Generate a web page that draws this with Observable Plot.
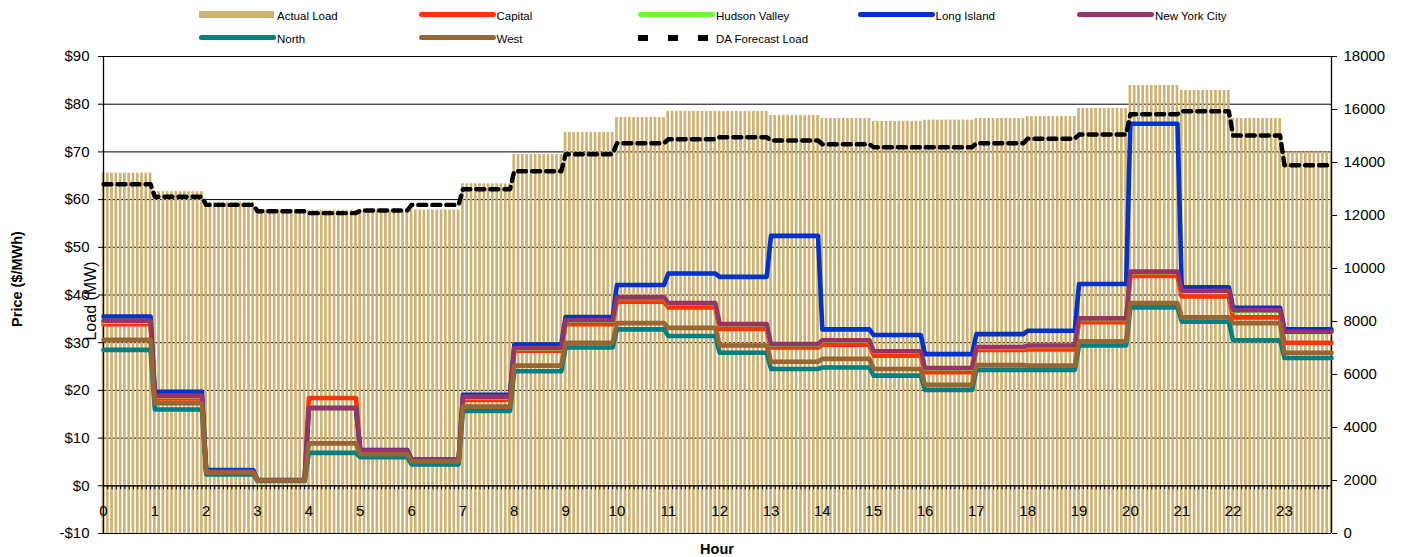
<!DOCTYPE html>
<html>
<head>
<meta charset="utf-8">
<script src="https://cdn.jsdelivr.net/npm/d3@7"></script>
<script src="https://cdn.jsdelivr.net/npm/@observablehq/plot@0.6"></script>
<style>
  html, body { margin: 0; padding: 0; background: #fff; }
  #wrap { position: relative; width: 1406px; height: 557px; font-family: "Liberation Sans", Arial, sans-serif; }
  #wrap svg { position: absolute; left: 0; top: 0; }
  .lg { position: absolute; font-size: 11.5px; color: #000; white-space: nowrap; line-height: 1; }
  .sw { position: absolute; }
  .title { position: absolute; white-space: nowrap; color: #000; line-height: 1; }
</style>
</head>
<body>
<div id="wrap"></div>
<script>
// ---- Data (hourly values) ----
const hours = d3.range(0, 24);
const actualLoad = [13600, 12900, 12500, 12210, 12200, 12200, 12210, 13195, 14300, 15130, 15700, 15925,
                    15925, 15775, 15660, 15550, 15600, 15660, 15735, 16040, 16905, 16720, 15660, 14400];
const daForecast = [13180, 12705, 12400, 12163, 12088, 12189, 12400, 12992, 13672, 14313, 14728, 14879,
                    14955, 14830, 14690, 14577, 14577, 14728, 14894, 15057, 15823, 15936, 15019, 13898];
const capital      = [33.9, 18.3, 2.9, 1.1, 18.4, 7.2, 5.2, 18.0, 28.3, 33.9, 38.6, 37.4,
                      32.9, 29.0, 29.6, 27.3, 23.8, 28.5, 28.6, 34.3, 44.0, 39.7, 35.3, 30.0];
const hudsonValley = [34.4, 18.8, 3.0, 1.1, 16.3, 7.3, 5.3, 18.6, 28.8, 34.6, 39.4, 38.2,
                      33.8, 29.6, 30.4, 28.1, 24.6, 29.0, 29.3, 35.0, 44.8, 40.8, 36.7, 32.2];
const longIsland   = [35.5, 19.7, 3.3, 1.2, 16.3, 7.5, 5.5, 19.1, 29.6, 35.4, 42.1, 44.5,
                      43.8, 52.4, 32.8, 31.6, 27.6, 31.8, 32.5, 42.3, 75.9, 41.6, 37.3, 32.8];
const newYorkCity  = [34.6, 18.9, 3.0, 1.1, 16.3, 7.4, 5.4, 18.7, 28.9, 34.7, 39.5, 38.3,
                      33.9, 29.7, 30.5, 28.2, 24.7, 29.1, 29.4, 35.1, 44.9, 40.9, 36.8, 32.3];
const north        = [28.5, 16.0, 2.4, 1.0, 6.9, 6.0, 4.5, 15.7, 24.0, 29.0, 32.8, 31.4,
                      27.9, 24.5, 24.8, 23.1, 20.1, 24.3, 24.3, 29.4, 37.4, 34.4, 30.5, 26.8];
const west         = [30.6, 17.3, 2.8, 1.1, 8.9, 6.6, 5.1, 16.6, 25.2, 30.0, 34.1, 33.1,
                      29.4, 26.0, 26.6, 24.5, 21.2, 25.3, 25.2, 30.3, 38.3, 35.3, 34.1, 27.9];
const priceTicks = [-10, 0, 10, 20, 30, 40, 50, 60, 70, 80, 90];
const loadTicks = [0, 2000, 4000, 6000, 8000, 10000, 12000, 14000, 16000, 18000];
const hourLabels = hours.map(String);

const seriesNames  = ["Capital", "Hudson Valley", "Long Island", "New York City", "North", "West"];
const seriesValues = [capital, hudsonValley, longIsland, newYorkCity, north, west];
const seriesColors = ["#FF3300", "#66FF33", "#0033CC", "#993366", "#008080", "#996633"];
const loadColor = "#CDB273";

// ---- helpers ----
const stepsPerHour = 12;  // 5-minute intervals
const toPrice = (load) => load / 180 - 10; // secondary axis 0..18000 aligned with -10..90
// expand hourly values to 5-minute rows (constant within each hour)
function expand(values) {
  const rows = [];
  values.forEach((v, h) => {
    for (let k = 0; k < stepsPerHour; k++) rows.push({t: h + k / stepsPerHour, v});
  });
  return rows;
}
const loadRows = expand(actualLoad);
const daRows = expand(daForecast);
const xMax = (24 * stepsPerHour - 1) / stepsPerHour;
const half = 1 / (2 * stepsPerHour);

const fmtPrice = d => d < 0 ? `-$${-d}` : `$${d}`;

const marks = [
  Plot.ruleY(priceTicks, {stroke: "#000", strokeWidth: 1}),
  Plot.rectY(loadRows, {x1: d => d.t - half, x2: d => d.t + half, y1: () => toPrice(0), y2: d => toPrice(d.v),
                        fill: loadColor, insetLeft: 0.8, insetRight: 0.8}),
  // category axis at $0
  Plot.ruleY([0], {stroke: "#000", strokeWidth: 1.2}),
  Plot.ruleX(loadRows, {x: "t", y1: 0, y2: -0.85, stroke: "#000", strokeWidth: 1}),
  Plot.text(hourLabels, {x: d => +d, y: () => 0, dy: 25, text: d => d, fontSize: 15, fill: "#000"}),
  // axis lines
  Plot.ruleX([0, xMax], {y1: -10, y2: 90, stroke: "#000", strokeWidth: 1.3}),
];
seriesValues.forEach((vals, i) => {
  marks.push(Plot.line(expand(vals), {x: "t", y: "v", stroke: seriesColors[i], strokeWidth: 4.6,
    strokeLinejoin: "round", strokeLinecap: "round"}));
});
marks.push(Plot.line(daRows, {x: "t", y: d => toPrice(d.v), stroke: "#000", strokeWidth: 4.4,
  strokeDasharray: "8,6"}));
marks.push(Plot.axisY({anchor: "left", ticks: priceTicks, tickFormat: fmtPrice, tickSize: 5, tickPadding: 9,
  label: null, fontSize: 15, stroke: "#000"}));
marks.push(Plot.axisY({anchor: "right", ticks: loadTicks.map(toPrice), tickFormat: p => String(Math.round((p + 10) * 180)),
  tickSize: 5, tickPadding: 7, label: null, fontSize: 15}));

const chart = Plot.plot({
  width: 1406,
  height: 557,
  marginTop: 56,
  marginBottom: 24,
  marginLeft: 103,
  marginRight: 75,
  style: {fontFamily: '"Liberation Sans", Arial, sans-serif', color: "#000", background: "#fff", overflow: "visible"},
  x: {domain: [0, xMax], axis: null},
  y: {domain: [-10, 90]},
  marks
});
const wrap = document.getElementById("wrap");
wrap.appendChild(chart);

// ---- titles ----
function addTitle(text, css) {
  const el = document.createElement("div");
  el.className = "title";
  el.textContent = text;
  Object.assign(el.style, css);
  wrap.appendChild(el);
  return el;
}
addTitle("Price ($/MWh)", {left: "17px", top: "279px", fontSize: "14.5px", fontWeight: "bold",
  transform: "translate(-50%, -50%) rotate(-90deg)"});
addTitle("Load (MW)", {left: "91px", top: "301px", fontSize: "16px",
  transform: "translate(-50%, -50%) rotate(-90deg)"});
addTitle("Hour", {left: "717px", top: "549px", fontSize: "14.5px", fontWeight: "bold",
  transform: "translate(-50%, -50%)"});

// ---- legend ----
const legendItems = [
  {name: "Actual Load", type: "rect", color: loadColor},
  ...seriesNames.map((n, i) => ({name: n, type: "line", color: seriesColors[i]})),
  {name: "DA Forecast Load", type: "dash", color: "#000"}
];
legendItems.forEach((it, i) => {
  const row = i < 5 ? 0 : 1;
  const col = i < 5 ? i : i - 5;
  const x0 = 199 + col * 219.5;
  const cy = row === 0 ? 14.5 : 37.5;
  if (it.type === "rect") {
    const s = document.createElement("div");
    s.className = "sw";
    Object.assign(s.style, {left: x0 + "px", top: (cy - 3.5) + "px", width: "75px", height: "7px", background: it.color});
    wrap.appendChild(s);
  } else if (it.type === "line") {
    const s = document.createElement("div");
    s.className = "sw";
    Object.assign(s.style, {left: x0 + "px", top: (cy - 2.3) + "px", width: "77px", height: "4.6px",
      background: it.color, borderRadius: "2.3px"});
    wrap.appendChild(s);
  } else {
    [0, 30, 60].forEach(dx => {
      const s = document.createElement("div");
      s.className = "sw";
      Object.assign(s.style, {left: (x0 + dx) + "px", top: (cy - 3) + "px", width: "10px", height: "6px", background: it.color});
      wrap.appendChild(s);
    });
  }
  const lab = document.createElement("div");
  lab.className = "lg";
  lab.textContent = it.name;
  Object.assign(lab.style, {left: (x0 + 78) + "px", top: (cy + 2.5) + "px", transform: "translateY(-50%)"});
  wrap.appendChild(lab);
});
</script>
</body>
</html>
